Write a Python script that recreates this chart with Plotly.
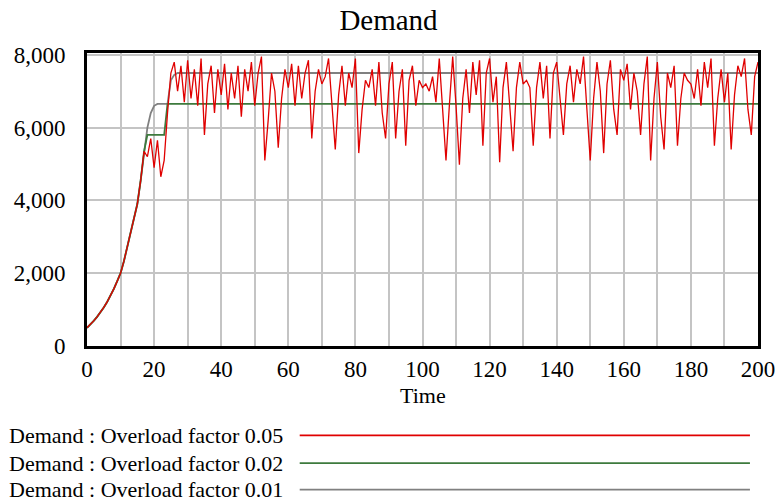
import plotly.graph_objects as go

# ---- data ----
time_red = list(range(0, 201))
demand_005 = [
    500, 590, 690, 800, 920, 1060, 1210, 1380, 1570, 1780,           # 0-9
    2000, 2330, 2720, 3120, 3500, 3900, 4550, 5350, 5200, 5700,       # 10-19
    4900, 5650, 4650, 5100, 6400, 7500, 7800, 7000, 7700, 6700,       # 20-29
    7850, 6800, 7600, 6600, 7900, 5800, 7200, 7700, 6400, 7600,       # 30-39
    6900, 7750, 6500, 7500, 6800, 7700, 6300, 7600, 7000, 7800,       # 40-49
    6600, 7500, 7950, 5100, 6200, 7500, 7000, 5450, 6800, 7600,       # 50-59
    7100, 7750, 6600, 7700, 6800, 7500, 7850, 5700, 7000, 7600,       # 60-69
    7200, 7400, 7900, 6500, 5400, 6900, 7700, 6600, 7500, 7100,       # 70-79
    7900, 5300, 6500, 7300, 7100, 7600, 6600, 7800, 6400, 5700,       # 80-89
    7200, 7800, 5700, 7000, 7600, 5500, 7300, 7700, 6600, 7300,       # 90-99
    7100, 7200, 7000, 7400, 6700, 7900, 6400, 5100, 6600, 7950,       # 100-109
    6600, 4980, 6800, 7600, 6400, 7800, 6900, 7850, 5500, 7500,       # 110-119
    7900, 6700, 7400, 5050, 7100, 7800, 6600, 5350, 7100, 7800,       # 120-129
    7200, 7300, 7100, 5500, 7100, 7800, 6800, 7700, 5700, 7500,       # 130-139
    7800, 6700, 5800, 7200, 7700, 6700, 7600, 7200, 7950, 6500,       # 140-149
    5100, 6800, 7800, 7000, 5300, 7200, 7850, 6500, 5800, 7600,       # 150-159
    7300, 7750, 6500, 7500, 7000, 5800, 7200, 7950, 5100, 6800,       # 160-169
    7800, 6300, 5400, 7500, 7100, 7700, 5500, 6800, 7500, 7300,       # 170-179
    7200, 6800, 7600, 6600, 7800, 7100, 7900, 5500, 6800, 7600,       # 180-189
    6700, 7500, 5400, 6900, 7700, 7400, 7900, 6500, 5800, 7400,       # 190-199
    7800,                                                             # 200
]

time_green = [0, 1, 2, 3, 4, 5, 6, 7, 8, 9, 10, 11, 12, 13, 14, 15, 16, 17,
              18, 19, 20, 21, 22, 23, 24, 200]
demand_002 = [500, 590, 690, 800, 920, 1060, 1210, 1380, 1570, 1780, 2000,
              2330, 2720, 3120, 3500, 3900, 4550, 5350,
              5800, 5800, 5800, 5800, 5800, 5800, 6650, 6650]

time_grey = [0, 1, 2, 3, 4, 5, 6, 7, 8, 9, 10, 11, 12, 13, 14, 15, 16, 17,
             18, 19, 20, 21, 22, 23, 24, 25, 26, 27, 200]
demand_001 = [500, 590, 690, 800, 920, 1060, 1210, 1380, 1570, 1780, 2000,
              2330, 2720, 3120, 3500, 3900, 4550, 5350,
              6000, 6400, 6600, 6650, 6650, 6650, 6650, 7300, 7450, 7500, 7500]

series_names = ["Demand : Overload factor 0.05",
                "Demand : Overload factor 0.02",
                "Demand : Overload factor 0.01"]
series_colors = ["#e00000", "#3d7a3d", "#808080"]

x_ticks = [0, 20, 40, 60, 80, 100, 120, 140, 160, 180, 200]
y_ticks = [0, 2000, 4000, 6000, 8000]

FONT = "Liberation Serif, Times New Roman, serif"

fig = go.Figure()
fig.add_trace(go.Scatter(x=time_grey, y=demand_001, mode="lines",
                         line=dict(color=series_colors[2], width=1.8),
                         name=series_names[2], showlegend=False))
fig.add_trace(go.Scatter(x=time_green, y=demand_002, mode="lines",
                         line=dict(color=series_colors[1], width=1.8),
                         name=series_names[1], showlegend=False))
fig.add_trace(go.Scatter(x=time_red, y=demand_005, mode="lines",
                         line=dict(color=series_colors[0], width=1.3),
                         name=series_names[0], showlegend=False))

fig.update_layout(
    width=777, height=502, autosize=False,
    margin=dict(l=87, r=19, t=53, b=156),
    paper_bgcolor="white", plot_bgcolor="white",
    font=dict(family=FONT, color="black", size=22),
    title=dict(text="Demand", x=0.5, xanchor="center", y=0.96, yanchor="middle",
               font=dict(family=FONT, size=29, color="black")),
    xaxis=dict(range=[0, 200], tickvals=x_ticks, ticks="", automargin=False,
               showgrid=True, gridcolor="#c4c4c4", gridwidth=1.5,
               minor=dict(dtick=10, showgrid=True, gridcolor="#c4c4c4", gridwidth=1.5),
               showline=True, linecolor="black", linewidth=3, mirror=True,
               zeroline=False, ticklabelstandoff=0,
               tickfont=dict(family=FONT, size=23)),
    yaxis=dict(range=[0, 8050], tickvals=y_ticks, tickformat=",", ticks="",
               automargin=False,
               showgrid=True, gridcolor="#c4c4c4", gridwidth=1.5,
               showline=True, linecolor="black", linewidth=3, mirror=True,
               zeroline=False, ticklabelstandoff=14,
               tickfont=dict(family=FONT, size=23)),
)

fig.add_annotation(text="Time", xref="paper", yref="paper", x=0.5, y=-0.168,
                   xanchor="center", yanchor="middle", showarrow=False,
                   font=dict(family=FONT, size=22, color="black"))

legend_y = [-0.305, -0.400, -0.490]
for name, color, yy in zip(series_names, series_colors, legend_y):
    fig.add_annotation(text=name, xref="paper", yref="paper", x=-0.119, y=yy,
                       xanchor="left", yanchor="middle", showarrow=False,
                       font=dict(family=FONT, size=22, color="black"))
    fig.add_shape(type="line", xref="paper", yref="paper",
                  x0=0.317, x1=0.988, y0=yy, y1=yy,
                  line=dict(color=color, width=1.8))

fig.write_html("out.html",
               config={"displayModeBar": False, "responsive": False},
               post_script="document.body.style.margin='0';document.body.style.overflow='hidden';")
